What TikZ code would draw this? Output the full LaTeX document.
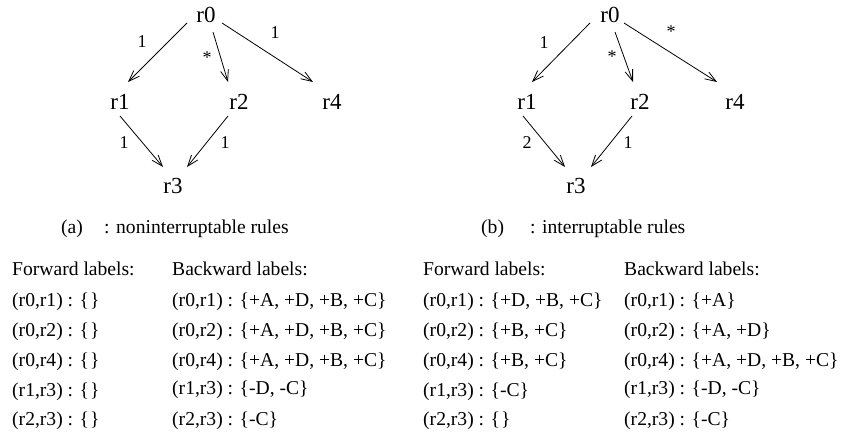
\documentclass[tikz,border=0pt]{standalone}
\usepackage{fontspec}
\setmainfont{Liberation Serif}
\usetikzlibrary{arrows.meta}
\newcommand{\nobraces}{\{\kern1pt\}}
\begin{document}
\begin{tikzpicture}[x=1pt,y=-1pt,
  vtx/.style={anchor=base,inner sep=0pt,font=\fontsize{23}{26}\selectfont},
  elab/.style={inner sep=0pt,font=\fontsize{18}{20}\selectfont},
  txt/.style={anchor=base west,inner sep=0pt,font=\fontsize{19.6}{24}\selectfont},
  edge/.style={line width=0.8pt,-{Straight Barb[length=11pt,width=8pt,line width=0.8pt]}}]
\useasboundingbox (0,0) rectangle (841,436);
% ---------- left graph
\node[vtx] (a0) at (206,23) {r0};
\node[vtx] (a1) at (120,110) {r1};
\node[vtx] (a2) at (239,110) {r2};
\node[vtx] (a4) at (332,110) {r4};
\node[vtx] (a3) at (173,193) {r3};
\draw[edge] ([shift={(-19,0)}]a0.base) -- ([shift={(8,-28)}]a1.base);
\draw[edge] ([shift={(7,9)}]a0.base) -- ([shift={(-11,-28)}]a2.base);
\draw[edge] ([shift={(16,0)}]a0.base) -- ([shift={(-19,-28)}]a4.base);
\draw[edge] ([shift={(0,6)}]a1.base) -- ([shift={(-10,-26)}]a3.base);
\draw[edge] ([shift={(-11,6)}]a2.base) -- ([shift={(14,-26)}]a3.base);
\node[elab] (la01) at (142,42) {1};
\node[elab] (la02) at (207,58) {*};
\node[elab] (la04) at (275,33) {1};
\node[elab] (la13) at (124,143) {1};
\node[elab] (la23) at (225,143) {1};
% ---------- right graph
\node[vtx] (b0) at (610,23) {r0};
\node[vtx] (b1) at (527,110) {r1};
\node[vtx] (b2) at (640,110) {r2};
\node[vtx] (b4) at (735,110) {r4};
\node[vtx] (b3) at (576,193) {r3};
\draw[edge] ([shift={(-20,0)}]b0.base) -- ([shift={(5,-28)}]b1.base);
\draw[edge] ([shift={(5,9)}]b0.base) -- ([shift={(-7,-28)}]b2.base);
\draw[edge] ([shift={(14,0)}]b0.base) -- ([shift={(-18,-28)}]b4.base);
\draw[edge] ([shift={(-4,6)}]b1.base) -- ([shift={(-11,-26)}]b3.base);
\draw[edge] ([shift={(-8,6)}]b2.base) -- ([shift={(15,-26)}]b3.base);
\node[elab] (lb01) at (544,43) {1};
\node[elab] (lb02) at (612,57) {*};
\node[elab] (lb04) at (671,32) {*};
\node[elab] (lb13) at (527,143) {2};
\node[elab] (lb23) at (628,143) {1};
% ---------- captions
\node[txt] (capa) at (61,233) {(a)};
\node[txt] (capat) at (104,233) {: noninterruptable rules};
\node[txt] (capb) at (481,233) {(b)};
\node[txt] (capbt) at (530,233) {: interruptable rules};
% ---------- left tables
\node[txt] (fa) at (12,275) {Forward labels:};
\node[txt] (fa1) at (12,306) {(r0,r1) : \nobraces};
\node[txt] (fa2) at (12,336.7) {(r0,r2) : \nobraces};
\node[txt] (fa3) at (12,366.7) {(r0,r4) : \nobraces};
\node[txt] (fa4) at (12,396.7) {(r1,r3) : \nobraces};
\node[txt] (fa5) at (12,425) {(r2,r3) : \nobraces};
\node[txt] (ba) at (172,275) {Backward labels:};
\node[txt] (ba1) at (172,306) {(r0,r1) : \{+A, +D, +B, +C\}};
\node[txt] (ba2) at (172,336.7) {(r0,r2) : \{+A, +D, +B, +C\}};
\node[txt] (ba3) at (172,366.7) {(r0,r4) : \{+A, +D, +B, +C\}};
\node[txt] (ba4) at (172,394) {(r1,r3) : \{-D, -C\}};
\node[txt] (ba5) at (172,425) {(r2,r3) : \{-C\}};
% ---------- right tables
\node[txt] (fb) at (423,275) {Forward labels:};
\node[txt] (fb1) at (423,306) {(r0,r1) : \{+D, +B, +C\}};
\node[txt] (fb2) at (423,336.7) {(r0,r2) : \{+B, +C\}};
\node[txt] (fb3) at (423,366.7) {(r0,r4) : \{+B, +C\}};
\node[txt] (fb4) at (423,396.7) {(r1,r3) : \{-C\}};
\node[txt] (fb5) at (423,425) {(r2,r3) : \nobraces};
\node[txt] (bb) at (624,275) {Backward labels:};
\node[txt] (bb1) at (624,306) {(r0,r1) : \{+A\}};
\node[txt] (bb2) at (624,336.7) {(r0,r2) : \{+A, +D\}};
\node[txt] (bb3) at (624,366.7) {(r0,r4) : \{+A, +D, +B, +C\}};
\node[txt] (bb4) at (624,394) {(r1,r3) : \{-D, -C\}};
\node[txt] (bb5) at (624,425) {(r2,r3) : \{-C\}};
\end{tikzpicture}
\end{document}
